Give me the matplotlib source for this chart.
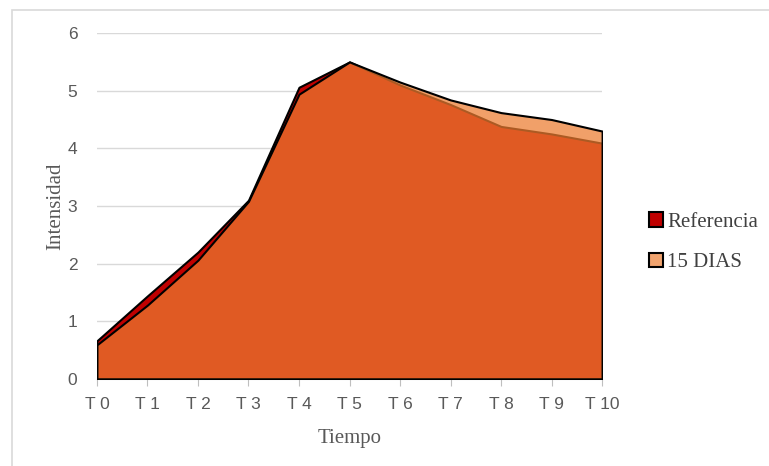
import matplotlib.pyplot as plt
from matplotlib.patches import Rectangle, Patch
import numpy as np

# datos
tiempos = ["T 0", "T 1", "T 2", "T 3", "T 4", "T 5", "T 6", "T 7", "T 8", "T 9", "T 10"]
referencia = [0.66, 1.44, 2.2, 3.1, 5.06, 5.5, 5.1, 4.76, 4.38, 4.25, 4.09]
dias15 = [0.59, 1.28, 2.06, 3.08, 4.94, 5.5, 5.15, 4.84, 4.62, 4.5, 4.3]

fig = plt.figure(figsize=(7.69, 4.66), dpi=100)
ax = fig.add_axes([0.126, 0.187, 0.657, 0.742])

x = np.arange(len(tiempos))

# borde del area del grafico
fig.patches.append(Rectangle((12 / 769, -0.1), 1.2, 1 - 10 / 466 + 0.1, transform=fig.transFigure,
                             fill=False, edgecolor="#D9D9D9", linewidth=1.2))

ax.fill_between(x, 0, referencia, facecolor="#C00000", edgecolor="black", linewidth=1.5, zorder=2)
ax.fill_between(x, 0, dias15, facecolor=(0.929, 0.490, 0.192, 0.73), edgecolor="black",
                linewidth=1.5, zorder=3)

ax.set_xlim(0, 10)
ax.set_ylim(0, 6)
ax.set_yticks(range(0, 7))
ax.set_xticks(x)
ax.set_xticklabels(tiempos)
ax.grid(axis="y", color="#D9D9D9", linewidth=1, zorder=0)
ax.set_axisbelow(True)

for s in ["top", "right", "left"]:
    ax.spines[s].set_visible(False)
ax.spines["bottom"].set_color("#BFBFBF")
ax.tick_params(axis="y", length=0, pad=14, labelsize=12.5, labelcolor="#595959")
ax.tick_params(axis="x", length=5, color="#BFBFBF", pad=8, labelsize=12.5, labelcolor="#595959")
for lab in ax.get_xticklabels() + ax.get_yticklabels():
    lab.set_family("Liberation Sans")

ax.set_xlabel("Tiempo", family="Liberation Serif", fontsize=15, color="#595959", labelpad=12)
ax.set_ylabel("Intensidad", family="Liberation Serif", fontsize=15, color="#595959", labelpad=2)

handles = [Patch(facecolor="#C00000", edgecolor="black", linewidth=1.5),
           Patch(facecolor="#F0A36E", edgecolor="black", linewidth=1.5)]
ax.legend(handles, ["Referencia", "15 DIAS"], loc="center left", bbox_to_anchor=(1.055, 0.395),
          frameon=False, prop={"family": "Liberation Serif", "size": 15}, labelcolor="#404040",
          handlelength=0.7, handleheight=0.7, handletextpad=0.2, labelspacing=1.0)

plt.savefig("out.png", dpi=100)
